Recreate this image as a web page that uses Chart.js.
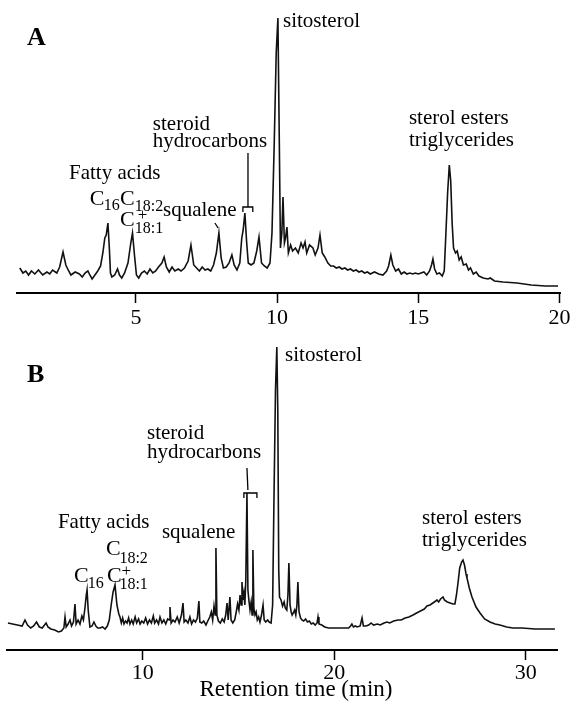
<!DOCTYPE html>
<html>
<head>
<meta charset="utf-8">
<script src="https://cdn.jsdelivr.net/npm/chart.js@4.4.0/dist/chart.umd.min.js"></script>
<style>
body { margin: 0; background: #fff; }
#wrap { position: relative; width: 570px; height: 706px; }
canvas { position: absolute; left: 0; }
#chartA { top: 0; }
#chartB { top: 340px; }
</style>
</head>
<body>
<div id="wrap">
<canvas id="chartA" width="570" height="340"></canvas>
<canvas id="chartB" width="570" height="366"></canvas>
</div>
<script>
// Panel A - retention time (min) and detector signal
const timeA = [
    0.89, 1.0, 1.1, 1.2, 1.3, 1.42, 1.55, 1.7, 1.85, 1.95,
    2.05, 2.2, 2.3, 2.42, 2.52, 2.62, 2.7, 2.85, 3.0, 3.1,
    3.2, 3.3, 3.37, 3.45, 3.55, 3.65, 3.75, 3.83, 3.9, 3.95,
    4.01, 4.06, 4.1, 4.15, 4.25, 4.35, 4.42, 4.5, 4.6, 4.72,
    4.82, 4.88, 4.95, 5.02, 5.1, 5.2, 5.3, 5.4, 5.5, 5.6,
    5.7, 5.8, 5.92, 6.0, 6.08, 6.18, 6.28, 6.38, 6.5, 6.6,
    6.72, 6.85, 6.95, 7.05, 7.15, 7.25, 7.35, 7.45, 7.55, 7.65,
    7.75, 7.85, 7.94, 8.02, 8.1, 8.2, 8.3, 8.4, 8.48, 8.58,
    8.68, 8.75, 8.8, 8.86, 8.92, 8.98, 9.08, 9.18, 9.28, 9.36,
    9.45, 9.55, 9.65, 9.75, 9.82, 9.9, 9.97, 10.03, 10.08, 10.12,
    10.17, 10.21, 10.26, 10.3, 10.35, 10.4, 10.48, 10.55, 10.65, 10.75,
    10.85, 10.92, 10.99, 11.05, 11.15, 11.27, 11.35, 11.45, 11.52, 11.6,
    11.69, 11.8, 11.9, 12.0, 12.1, 12.2, 12.3, 12.4, 12.5, 12.6,
    12.7, 12.8, 12.9, 13.0, 13.1, 13.2, 13.3, 13.45, 13.6, 13.75,
    13.88, 13.95, 14.03, 14.1, 14.2, 14.3, 14.4, 14.5, 14.6, 14.7,
    14.8, 14.9, 15.0, 15.1, 15.2, 15.3, 15.4, 15.47, 15.52, 15.58,
    15.66, 15.75, 15.85, 15.92, 15.98, 16.04, 16.1, 16.15, 16.2, 16.25,
    16.32, 16.38, 16.45, 16.52, 16.6, 16.7, 16.78, 16.85, 16.95, 17.05,
    17.15, 17.3, 17.47, 17.55, 17.7, 18.0, 18.5, 19.0, 19.5, 19.95
];
const signalA = [
    25, 20, 22, 18, 22, 19, 23, 18, 21, 19,
    23, 20, 26, 41, 28, 22, 18, 21, 19, 16,
    20, 22, 18, 14, 18, 22, 27, 40, 55, 58,
    70, 45, 20, 16, 18, 24, 18, 15, 20, 30,
    50, 60, 38, 18, 15, 20, 22, 19, 24, 20,
    22, 26, 30, 36, 26, 21, 26, 22, 24, 22,
    25, 32, 48, 28, 25, 22, 26, 23, 24, 22,
    28, 40, 60, 35, 25, 26, 30, 38, 28, 23,
    30, 55, 63, 80, 52, 30, 28, 30, 42, 56,
    30, 27, 25, 30, 60, 150, 240, 275, 150, 45,
    60, 96, 50, 55, 66, 40, 48, 42, 45, 40,
    50, 45, 51, 40, 48, 45, 38, 45, 58, 40,
    36, 30, 27, 27, 25, 26, 24, 25, 23, 24,
    22, 23, 21, 22, 20, 21, 19, 21, 19, 18,
    22, 27, 38, 28, 22, 24, 19, 21, 19, 20,
    19, 20, 19, 20, 21, 18, 22, 28, 34, 24,
    19, 20, 17, 22, 60, 100, 128, 112, 70, 45,
    40, 42, 33, 36, 28, 29, 23, 25, 19, 21,
    17, 15, 14, 15, 12, 11, 10, 8, 7, 7
];
const ticksA = [5, 10, 15, 20];

// Panel B
const timeB = [
    2.96, 3.2, 3.45, 3.7, 3.85, 3.98, 4.15, 4.3, 4.45, 4.6,
    4.75, 4.95, 5.05, 5.2, 5.4, 5.6, 5.75, 5.88, 5.94, 6.0,
    6.1, 6.2, 6.28, 6.38, 6.46, 6.52, 6.62, 6.72, 6.82, 6.9,
    6.98, 7.05, 7.09, 7.15, 7.24, 7.35, 7.45, 7.55, 7.65, 7.77,
    7.9, 8.03, 8.15, 8.25, 8.35, 8.45, 8.55, 8.65, 8.75, 8.81,
    8.88, 8.95, 9.02, 9.1, 9.18, 9.26, 9.33, 9.42, 9.5, 9.6,
    9.68, 9.78, 9.86, 9.95, 10.05, 10.15, 10.25, 10.35, 10.45, 10.55,
    10.62, 10.72, 10.82, 10.9, 11.0, 11.1, 11.2, 11.3, 11.38, 11.42,
    11.48, 11.58, 11.68, 11.8, 11.9, 12.02, 12.1, 12.16, 12.25, 12.36,
    12.46, 12.55, 12.65, 12.75, 12.85, 12.93, 12.98, 13.08, 13.18, 13.3,
    13.42, 13.5, 13.58, 13.65, 13.72, 13.78, 13.82, 13.87, 13.95, 14.05,
    14.15, 14.25, 14.33, 14.4, 14.46, 14.55, 14.61, 14.7, 14.8, 14.88,
    14.95, 15.02, 15.08, 15.14, 15.18, 15.23, 15.28, 15.33, 15.38, 15.44,
    15.49, 15.54, 15.6, 15.66, 15.71, 15.75, 15.8, 15.86, 15.92, 15.98,
    16.05, 16.12, 16.2, 16.28, 16.34, 16.42, 16.52, 16.6, 16.7, 16.78,
    16.85, 16.93, 17.0, 17.05, 17.1, 17.14, 17.22, 17.3, 17.38, 17.44,
    17.52, 17.58, 17.63, 17.69, 17.75, 17.8, 17.86, 17.93, 17.99, 18.05,
    18.1, 18.16, 18.24, 18.31, 18.4, 18.5, 18.6, 18.7, 18.8, 18.9,
    19.0, 19.1, 19.15, 19.2, 19.35, 19.5, 19.7, 19.93, 20.2, 20.5,
    20.75, 20.85, 20.92, 21.0, 21.1, 21.2, 21.35, 21.45, 21.52, 21.65,
    21.8, 21.92, 22.05, 22.25, 22.4, 22.6, 22.75, 22.9, 23.1, 23.33,
    23.5, 23.7, 23.9, 24.11, 24.3, 24.5, 24.7, 24.84, 25.0, 25.15,
    25.3, 25.36, 25.45, 25.55, 25.68, 25.75, 25.9, 26.05, 26.2, 26.3,
    26.38, 26.46, 26.55, 26.65, 26.72, 26.8, 26.88, 26.93, 27.05, 27.19,
    27.4, 27.61, 27.85, 28.13, 28.4, 28.65, 29.0, 29.33, 29.8, 30.48,
    31.0, 31.52
];
const signalB = [
    27, 26, 25, 24, 30, 25, 22, 24, 28, 23,
    22, 27, 23, 21, 20, 18, 19, 22, 33, 23,
    26, 30, 24, 28, 46, 26, 30, 26, 34, 30,
    42, 55, 60, 40, 23, 24, 28, 24, 22, 22,
    23, 21, 24, 30, 45, 58, 65, 45, 36, 33,
    27, 32, 26, 29, 27, 32, 26, 30, 26, 33,
    27, 31, 26, 29, 27, 32, 26, 30, 27, 34,
    27, 30, 26, 33, 27, 30, 26, 31, 30, 43,
    27, 30, 28, 33, 27, 35, 47, 28, 30, 27,
    33, 26, 30, 28, 32, 49, 28, 27, 29, 25,
    30, 33, 38, 30, 44, 35, 102, 35, 29, 27,
    31, 28, 35, 47, 30, 53, 30, 27, 30, 38,
    46, 40, 55, 45, 68, 50, 57, 45, 70, 157,
    60, 50, 40, 48, 35, 100, 42, 35, 38, 30,
    33, 28, 35, 45, 30, 28, 30, 28, 27, 45,
    150, 260, 303, 240, 80, 53, 50, 44, 48, 42,
    40, 55, 87, 45, 38, 35, 37, 40, 35, 45,
    68, 38, 32, 30, 29, 31, 28, 29, 26, 27,
    25, 27, 33, 26, 25, 23, 22, 22, 22, 22,
    22, 24, 26, 23, 24, 23, 24, 32, 24, 24,
    25, 27, 25, 26, 25, 27, 28, 27, 29, 30,
    30, 32, 33, 35, 37, 39, 41, 44, 45, 47,
    49, 50, 48, 51, 53, 50, 48, 47, 46, 46,
    55, 67, 82, 88, 90, 85, 76, 72, 62, 53,
    43, 37, 31, 28, 26, 25, 23, 22, 22, 21,
    21, 21
];
const ticksB = [10, 20, 30];

const FONT = '"Liberation Serif", "Times New Roman", serif';

// Rótulos y corchetes dibujados sobre el cromatograma
const notasA = {
    texts: [
        { text: 'A', t: 1.14, v: 255, size: 26, bold: true },
        { text: 'sitosterol', t: 10.21, v: 272 },
        { text: 'steroid', t: 5.6, v: 169 },
        { text: 'hydrocarbons', t: 5.6, v: 152 },
        { text: 'Fatty acids', t: 2.63, v: 120 },
        { text: 'C', t: 3.37, v: 94, size: 22 },
        { text: '16', t: 3.86, v: 87, size: 16 },
        { text: 'C', t: 4.44, v: 94, size: 22 },
        { text: '18:2', t: 4.96, v: 86, size: 16 },
        { text: 'C', t: 4.44, v: 73, size: 22 },
        { text: '+', t: 5.24, v: 77, size: 17, align: 'center' },
        { text: '18:1', t: 4.96, v: 64, size: 16 },
        { text: 'squalene', t: 5.96, v: 83 },
        { text: 'sterol esters', t: 14.67, v: 175 },
        { text: 'triglycerides', t: 14.67, v: 153 }
    ],
    lines: [
        [[8.97, 140], [8.97, 86]],
        [[8.79, 81], [8.79, 86], [9.14, 86], [9.14, 81]],
        [[7.8, 70], [7.91, 65]]
    ]
};
const notasB = {
    texts: [
        { text: 'B', t: 3.95, v: 275, size: 26, bold: true },
        { text: 'sitosterol', t: 17.43, v: 295 },
        { text: 'steroid', t: 10.22, v: 217 },
        { text: 'hydrocarbons', t: 10.22, v: 198 },
        { text: 'Fatty acids', t: 5.57, v: 128 },
        { text: 'C', t: 8.08, v: 101, size: 22 },
        { text: '18:2', t: 8.78, v: 91, size: 16 },
        { text: 'C', t: 8.13, v: 74, size: 22 },
        { text: '+', t: 9.14, v: 78, size: 17, align: 'center' },
        { text: '18:1', t: 8.78, v: 65, size: 16 },
        { text: 'C', t: 6.41, v: 74, size: 22 },
        { text: '16', t: 7.13, v: 66, size: 16 },
        { text: 'squalene', t: 11.0, v: 118 },
        { text: 'sterol esters', t: 24.58, v: 132 },
        { text: 'triglycerides', t: 24.58, v: 110 },
        { text: 'Retention time (min)', t: 18.0, v: -40, size: 23, align: 'center' }
    ],
    lines: [
        [[15.44, 182], [15.49, 160]],
        [[15.28, 152], [15.28, 157], [15.96, 157], [15.96, 152]]
    ]
};

const rotulos = {
    id: 'rotulos',
    afterDraw(chart, args, opts) {
        const { ctx, scales: { x, y } } = chart;
        ctx.save();
        ctx.fillStyle = '#000';
        ctx.strokeStyle = '#000';
        ctx.lineWidth = 1.3;
        ctx.textBaseline = 'middle';
        (opts.texts || []).forEach(l => {
            ctx.font = (l.bold ? 'bold ' : '') + (l.size || 21) + 'px ' + FONT;
            ctx.textAlign = l.align || 'left';
            ctx.fillText(l.text, x.getPixelForValue(l.t), y.getPixelForValue(l.v));
        });
        (opts.lines || []).forEach(pts => {
            ctx.beginPath();
            pts.forEach((p, i) => {
                const px = x.getPixelForValue(p[0]);
                const py = y.getPixelForValue(p[1]);
                if (i) ctx.lineTo(px, py); else ctx.moveTo(px, py);
            });
            ctx.stroke();
        });
        ctx.restore();
    }
};

function crearCromatograma(id, tiempos, senal, xMin, xMax, yMax, marcas, padding, altoEje, notas, padTick) {
    const ctx = document.getElementById(id).getContext('2d');
    return new Chart(ctx, {
        type: 'line',
        data: {
            datasets: [{
                data: tiempos.map((t, i) => ({ x: t, y: senal[i] })),
                borderColor: '#111',
                borderWidth: 1.6,
                pointRadius: 0,
                tension: 0,
                fill: false
            }]
        },
        options: {
            responsive: false,
            animation: false,
            layout: { padding: padding },
            plugins: {
                legend: { display: false },
                tooltip: { enabled: false },
                rotulos: notas
            },
            scales: {
                x: {
                    type: 'linear',
                    min: xMin,
                    max: xMax,
                    afterBuildTicks: s => { s.ticks = marcas.map(v => ({ value: v })); },
                    afterFit: s => { s.height = altoEje; s.paddingLeft = 0; s.paddingRight = 0; },
                    grid: { drawOnChartArea: false, color: '#000', tickLength: 10, tickWidth: 1.5 },
                    border: { display: true, color: '#000', width: 2 },
                    ticks: { color: '#000', padding: padTick, maxRotation: 0, font: { family: FONT, size: 22 } }
                },
                y: { display: false, min: 0, max: yMax }
            }
        },
        plugins: [rotulos]
    });
}

crearCromatograma('chartA', timeA, signalA, 0.79, 20.02, 278, ticksA,
    { left: 17, right: 10, top: 15, bottom: 0 }, 47, notasA, 2);
crearCromatograma('chartB', timeB, signalB, 2.91, 31.63, 305, ticksB,
    { left: 7, right: 13, top: 5, bottom: 0 }, 56, notasB, 0);
</script>
</body>
</html>
